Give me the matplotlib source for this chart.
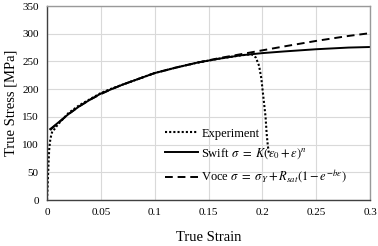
import matplotlib.pyplot as plt

plt.rcParams['font.family'] = ['Liberation Serif', 'DejaVu Serif']
plt.rcParams['mathtext.fontset'] = 'stix'

# experiment (true strain, true stress)
exp_strain = [0.0, 0.0005, 0.001, 0.0015, 0.002, 0.0025, 0.003, 0.004, 0.005, 0.007, 0.01,
              0.02, 0.03, 0.04, 0.05, 0.06, 0.07, 0.08, 0.09, 0.1, 0.12, 0.14, 0.16,
              0.18, 0.19, 0.194, 0.197, 0.199, 0.201, 0.203, 0.204, 0.205, 0.206]
exp_stress = [0, 20, 45, 70, 90, 100, 108, 118, 124, 128, 136,
              157, 171, 182, 193, 201, 208, 215, 222, 229, 239, 248, 255,
              261, 263, 257, 242, 220, 185, 150, 120, 100, 85]

swift_strain = [0.003, 0.005, 0.01, 0.02, 0.03, 0.04, 0.05, 0.06, 0.07, 0.08, 0.09, 0.1,
                0.12, 0.14, 0.16, 0.18, 0.2, 0.22, 0.25, 0.28, 0.3]
swift_stress = [128, 131, 139, 155, 169, 181, 192, 200, 208, 215, 222, 229,
                239, 248, 255, 261, 265, 268, 272, 275, 276]

voce_strain = [0.003, 0.005, 0.01, 0.02, 0.03, 0.04, 0.05, 0.06, 0.07, 0.08, 0.09, 0.1,
               0.12, 0.14, 0.16, 0.18, 0.2, 0.22, 0.25, 0.28, 0.3]
voce_stress = [126, 130, 138, 155, 169, 181, 191, 200, 208, 215, 222, 229,
               239, 248, 256, 263, 270, 277, 287, 296, 301]

fig = plt.figure(figsize=(3.78, 2.46), dpi=100)
ax = fig.add_axes([47 / 378, 46 / 246, 323 / 378, 194 / 246])

ax.plot(exp_strain, exp_stress, color='k', linestyle=(0, (1, 1)), linewidth=1.5, label='Experiment')
ax.plot(swift_strain, swift_stress, color='k', linestyle='-', linewidth=1.4,
        label=r'Swift $\sigma\ =\ K(\varepsilon_0 + \varepsilon)^n$')
ax.plot(voce_strain, voce_stress, color='k', linestyle=(0, (4, 2.5)), linewidth=1.4,
        label=r'Voce $\sigma\ =\ \sigma_Y + R_{sat}(1 - e^{-b\varepsilon})$')

ax.set_xlim(0, 0.3)
ax.set_ylim(0, 350)
ax.set_xticks([0, 0.05, 0.1, 0.15, 0.2, 0.25, 0.3])
ax.set_xticklabels(['0', '0.05', '0.1', '0.15', '0.2', '0.25', '0.3'])
ax.set_yticks(range(0, 351, 50))
ax.tick_params(length=0, labelsize=8, pad=6)
ax.grid(True, color='#d9d9d9', linewidth=0.8)
ax.set_axisbelow(True)
for side in ['top', 'right']:
    ax.spines[side].set_color('#999999')
    ax.spines[side].set_linewidth(1.0)
for side in ['bottom', 'left']:
    ax.spines[side].set_color('#404040')
    ax.spines[side].set_linewidth(1.0)

ax.set_xlabel('True Strain', fontsize=10.5, labelpad=10)
ax.set_ylabel('True Stress [MPa]', fontsize=10.5, labelpad=3)

ax.legend(loc='lower left', frameon=False, fontsize=9, handlelength=2.6,
          handletextpad=0.3, labelspacing=0.55, borderaxespad=0,
          bbox_to_anchor=(113 / 323, 0.05))

fig.savefig('out.png', dpi=100)
